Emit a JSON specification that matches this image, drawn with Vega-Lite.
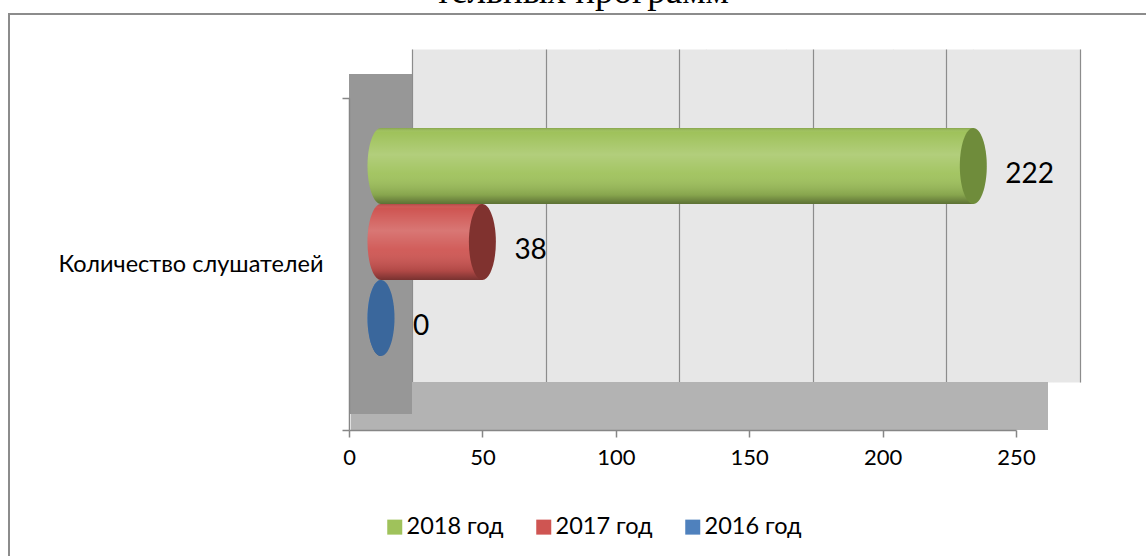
{
  "$schema": "https://vega.github.io/schema/vega-lite/v6.json",
  "width": 1140,
  "height": 545,
  "autosize": {"type": "none"},
  "padding": {"left": 9, "top": 14, "right": 0, "bottom": 0},
  "background": "white",
  "title": {"text": "тельных программ", "font": "Liberation Serif", "fontSize": 37, "fontWeight": "normal", "color": "black", "anchor": "middle", "frame": "group", "baseline": "alphabetic", "offset": 7, "dy": 45, "dx": 3},
  "config": {"view": {"stroke": "#8c8c8c", "strokeWidth": 2}, "font": "Lato"},
  "data": {"values": [
    {"cat": "Количество слушателей", "year": "2018 год", "value": 222},
    {"cat": "Количество слушателей", "year": "2017 год", "value": 38},
    {"cat": "Количество слушателей", "year": "2016 год", "value": 0}
  ]},
  "layer": [
    {
      "mark": {"type": "point", "opacity": 0},
      "encoding": {
        "x": {"datum": 0, "type": "quantitative", "scale": {"domain": [0, 250], "range": [403, 1071], "nice": false},
              "axis": {"orient": "top", "values": [5, 15, 25, 35, 45, 55, 65, 75, 85, 95, 105, 115, 125, 135, 145, 155, 165, 175, 185, 195, 205, 215, 225, 235, 245], "grid": true, "gridWidth": 27.2, "gridColor": "#e7e7e7", "gridOpacity": 1, "domain": false, "ticks": false, "labels": false, "title": null}},
        "y": {"field": "cat", "type": "nominal", "scale": {"range": [35, 368], "paddingInner": 0, "paddingOuter": 0}, "axis": null}
      }
    },
    {
      "mark": {"type": "point", "opacity": 0},
      "encoding": {
        "x": {"datum": 0, "type": "quantitative", "scale": {"domain": [0, 250], "range": [403, 1071], "nice": false},
              "axis": {"orient": "top", "values": [0, 50, 100, 150, 200, 250], "grid": true, "gridWidth": 1.2, "gridColor": "#8c8c8c", "gridOpacity": 1, "domain": false, "ticks": false, "labels": false, "title": null}},
        "y": {"field": "cat", "type": "nominal", "scale": {"range": [35, 368], "paddingInner": 0, "paddingOuter": 0}, "axis": null}
      }
    },
    {
      "mark": {"type": "rect", "color": "#b3b3b3"},
      "encoding": {
        "x": {"datum": 0, "type": "quantitative", "scale": {"domain": [0, 250], "range": [342, 1039], "nice": false}, "axis": null},
        "x2": {"datum": 250},
        "y": {"field": "cat", "type": "nominal", "scale": {"range": [368, 416], "paddingInner": 0, "paddingOuter": 0}, "axis": null}
      }
    },
    {
      "mark": {"type": "rect", "color": "#979797"},
      "encoding": {
        "x": {"datum": 0, "type": "quantitative", "scale": {"domain": [0, 250], "range": [340, 403], "nice": false}, "axis": null},
        "x2": {"datum": 250},
        "y": {"field": "cat", "type": "nominal", "scale": {"range": [60, 400], "paddingInner": 0, "paddingOuter": 0}, "axis": null}
      }
    },
    {
      "mark": {"type": "point", "opacity": 0},
      "encoding": {
        "x": {"datum": 0, "type": "quantitative", "scale": {"domain": [0, 250], "range": [340, 1007], "nice": false},
              "axis": {"orient": "bottom", "offset": -129, "values": [0, 50, 100, 150, 200, 250], "grid": false, "labelFlush": false, "domainColor": "#868686", "domainWidth": 1.5, "tickColor": "#868686", "tickWidth": 1.5, "tickSize": 7, "labelFont": "Lato", "labelFontSize": 22, "labelColor": "black", "labelPadding": 10, "title": null, "zindex": 1}}
      }
    },
    {
      "encoding": {
        "x": {"field": "value", "type": "quantitative", "scale": {"domain": [0, 250], "range": [372, 1039], "nice": false}, "axis": null},
        "y": {"field": "cat", "type": "nominal", "scale": {"range": [84, 416], "paddingInner": 0, "paddingOuter": 0},
              "axis": {"orient": "left", "offset": -340, "title": null, "tickBand": "extent", "tickSize": 7, "tickColor": "#868686", "tickWidth": 1.5, "domainColor": "#868686", "domainWidth": 1.5, "labelFont": "Lato", "labelFontSize": 23.5, "labelColor": "black", "labelPadding": 19, "labelLimit": 500, "grid": false, "zindex": 1}},
        "yOffset": {"field": "year", "type": "nominal", "scale": {"domain": ["2018 год", "2017 год", "2016 год"], "range": [30, 258], "paddingInner": 0, "paddingOuter": 0}}
      },
      "layer": [
        {
          "mark": {"type": "bar"},
          "encoding": {
            "color": {"field": "year", "type": "nominal", "scale": {"domain": ["2018 год", "2017 год", "2016 год"], "range": ["#9fc25b", "#cf5552", "#4f81bd"]},
                      "legend": {"orient": "none", "legendX": 374, "legendY": 501, "direction": "horizontal", "title": null, "symbolType": "square", "symbolSize": 225, "symbolStrokeWidth": 0, "labelFont": "Lato", "labelFontSize": 23.5, "labelColor": "black", "labelOffset": 0, "columnPadding": 28, "padding": 0}}
          }
        },
        {
          "mark": {"type": "point", "shape": "M0,-1A0.355,1 0 0,0 0,1Z", "size": 5776, "filled": true, "opacity": 1, "strokeWidth": 0},
          "encoding": {
            "x": {"datum": 0},
            "color": {"field": "year", "type": "nominal",
                      "legend": {"orient": "none", "legendX": 374, "legendY": 501, "direction": "horizontal", "title": null, "symbolType": "square", "symbolSize": 225, "symbolStrokeWidth": 0, "labelFont": "Lato", "labelFontSize": 23.5, "labelColor": "black", "labelOffset": 0, "columnPadding": 28, "padding": 0}}
          }
        },
        {
          "mark": {"type": "bar", "color": {"gradient": "linear", "x1": 0, "y1": 0, "x2": 0, "y2": 1, "stops": [
            {"offset": 0, "color": "rgba(0,0,0,0.15)"},
            {"offset": 0.06, "color": "rgba(255,255,255,0)"},
            {"offset": 0.35, "color": "rgba(255,255,255,0.2)"},
            {"offset": 0.6, "color": "rgba(255,255,255,0.05)"},
            {"offset": 0.88, "color": "rgba(0,0,0,0.15)"},
            {"offset": 1, "color": "rgba(0,0,0,0.42)"}
          ]}}
        },
        {
          "mark": {"type": "point", "shape": "M0,-1A0.355,1 0 0,0 0,1Z", "size": 5776, "filled": true, "opacity": 1, "strokeWidth": 0,
                   "fill": {"gradient": "linear", "x1": 0, "y1": 0, "x2": 0, "y2": 1, "stops": [
            {"offset": 0, "color": "rgba(0,0,0,0.15)"},
            {"offset": 0.06, "color": "rgba(255,255,255,0)"},
            {"offset": 0.35, "color": "rgba(255,255,255,0.2)"},
            {"offset": 0.6, "color": "rgba(255,255,255,0.05)"},
            {"offset": 0.88, "color": "rgba(0,0,0,0.15)"},
            {"offset": 1, "color": "rgba(0,0,0,0.42)"}
          ]}},
          "encoding": {"x": {"datum": 0}}
        },
        {
          "mark": {"type": "point", "shape": "M0,-1A0.355,1 0 1,1 0,1A0.355,1 0 1,1 0,-1Z", "size": 5776, "filled": true, "opacity": 1, "strokeWidth": 0},
          "encoding": {
            "fill": {"field": "year", "type": "nominal", "scale": {"domain": ["2018 год", "2017 год", "2016 год"], "range": ["#6f8c3b", "#80322f", "#3a679c"]}, "legend": null}
          }
        },
        {
          "mark": {"type": "text", "align": "left", "baseline": "middle", "dx": 32, "dy": 9, "fontSize": 28, "font": "Lato", "color": "black"},
          "encoding": {"text": {"field": "value", "type": "quantitative"}}
        }
      ]
    }
  ],
  "resolve": {"scale": {"x": "independent", "y": "independent"}}
}
